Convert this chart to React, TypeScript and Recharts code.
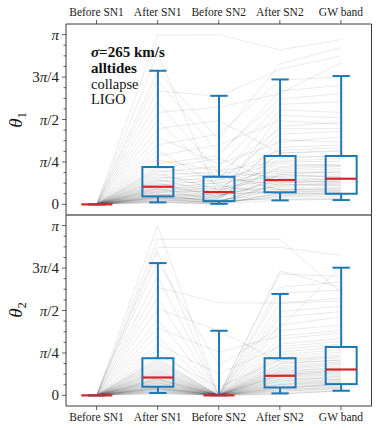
import React from "react";
import { ComposedChart, Line, Bar, XAxis, YAxis, ReferenceLine } from "recharts";

const PI = Math.PI;
const FONT = '"Liberation Serif", serif';

const categories = ["Before SN1", "After SN1", "Before SN2", "After SN2", "GW band"];

// y ticks every pi/16, labels on every fourth one
const yTicks = [0, 1, 2, 3, 4, 5, 6, 7, 8, 9, 10, 11, 12, 13, 14, 15, 16].map((k) => (k * PI) / 16);
const yDomain = [-PI / 16, (17 * PI) / 16];

// box stats (radians): whisker low, q1, median, q3, whisker high
const theta1Low = [0, 0.037, 0.01, 0.074, 0.08];
const theta1Q1 = [0, 0.148, 0.061, 0.223, 0.197];
const theta1Median = [0, 0.327, 0.228, 0.451, 0.475];
const theta1Q3 = [0, 0.692, 0.512, 0.896, 0.896];
const theta1High = [0, 2.473, 2.009, 2.312, 2.375];

const theta2Low = [0, 0.044, 0, 0.037, 0.086];
const theta2Q1 = [0, 0.16, 0, 0.147, 0.209];
const theta2Median = [0, 0.331, 0, 0.363, 0.479];
const theta2Q3 = [0, 0.688, 0, 0.688, 0.896];
const theta2High = [0, 2.448, 1.196, 1.877, 2.363];

// individual systems: [Before SN1, After SN1, Before SN2, After SN2, GW band]
const theta1Paths = [
  [0, 0.03, 0.01, 0.08, 0.09], [0, 0.04, 0.02, 0.15, 0.14], [0, 0.05, 0.0, 0.22, 0.2],
  [0, 0.06, 0.03, 0.3, 0.31], [0, 0.07, 0.05, 0.12, 0.11], [0, 0.08, 0.04, 0.4, 0.42],
  [0, 0.09, 0.07, 0.26, 0.28], [0, 0.1, 0.02, 0.55, 0.6], [0, 0.11, 0.09, 0.18, 0.17],
  [0, 0.12, 0.06, 0.35, 0.38], [0, 0.12, 0.1, 0.95, 0.98], [0, 0.13, 0.01, 0.2, 0.22],
  [0, 0.14, 0.12, 0.48, 0.45], [0, 0.14, 0.08, 0.09, 0.1], [0, 0.15, 0.14, 0.7, 0.75],
  [0, 0.16, 0.18, 0.25, 0.24], [0, 0.17, 0.05, 1.2, 1.15], [0, 0.18, 0.2, 0.33, 0.36],
  [0, 0.19, 0.15, 0.42, 0.47], [0, 0.2, 0.03, 0.16, 0.19], [0, 0.22, 0.25, 0.6, 0.58],
  [0, 0.23, 0.11, 0.85, 0.9], [0, 0.24, 0.3, 0.28, 0.26], [0, 0.25, 0.22, 1.45, 1.52],
  [0, 0.27, 0.16, 0.45, 0.5], [0, 0.28, 0.35, 0.19, 0.21], [0, 0.29, 0.24, 0.65, 0.7],
  [0, 0.3, 0.06, 0.38, 0.35], [0, 0.31, 0.4, 0.52, 0.55], [0, 0.33, 0.28, 1.05, 1.1],
  [0, 0.34, 0.19, 0.23, 0.25], [0, 0.36, 0.45, 0.78, 0.8], [0, 0.38, 0.32, 0.44, 0.41],
  [0, 0.4, 0.13, 1.65, 1.6], [0, 0.42, 0.5, 0.36, 0.4], [0, 0.44, 0.38, 0.9, 0.88],
  [0, 0.46, 0.21, 0.58, 0.62], [0, 0.48, 0.55, 0.27, 0.3], [0, 0.51, 0.42, 1.3, 1.35],
  [0, 0.54, 0.6, 0.5, 0.52], [0, 0.57, 0.27, 0.75, 0.72], [0, 0.6, 0.7, 1.85, 1.9],
  [0, 0.63, 0.48, 0.62, 0.66], [0, 0.66, 0.85, 0.4, 0.44], [0, 0.69, 0.52, 1.0, 1.05],
  [0, 0.75, 0.9, 2.1, 2.2], [0, 0.82, 0.62, 0.8, 0.85], [0, 0.9, 1.1, 1.55, 1.48],
  [0, 1.0, 0.35, 0.68, 0.72], [0, 1.1, 1.3, 2.3, 2.36], [0, 1.25, 0.75, 1.15, 1.25],
  [0, 1.4, 1.55, 0.95, 1.0], [0, 1.55, 0.46, 1.75, 1.7], [0, 1.7, 1.8, 2.05, 2.62],
  [0, 1.9, 0.58, 1.4, 1.4], [0, 2.1, 2.0, 2.5, 2.75], [0, 2.3, 0.95, 1.95, 2.05],
  [0, 2.46, 1.2, 2.6, 2.9], [0, 2.78, 0.15, 0.55, 0.5], [0, 3.13, 3.14, 2.86, 3.05],
];

const theta2Paths = [
  [0, 0.03, 0, 0.03, 0.08], [0, 0.04, 0, 0.1, 0.15], [0, 0.05, 0, 0.2, 0.25],
  [0, 0.06, 0, 0.05, 0.1], [0, 0.07, 0, 0.35, 0.4], [0, 0.08, 0, 0.14, 0.2],
  [0, 0.09, 0, 0.5, 0.58], [0, 0.1, 0, 0.08, 0.12], [0, 0.11, 0, 0.26, 0.35],
  [0, 0.12, 0, 0.7, 0.8], [0, 0.12, 0, 0.16, 0.22], [0, 0.13, 0, 0.42, 0.47],
  [0, 0.14, 0, 0.02, 0.09], [0, 0.14, 0, 0.3, 0.32], [0, 0.15, 0, 0.95, 1.05],
  [0, 0.16, 0, 0.12, 0.18], [0, 0.17, 0, 0.6, 0.65], [0, 0.18, 0, 0.22, 0.28],
  [0, 0.19, 0, 0.38, 0.44], [0, 0.2, 0, 0.07, 0.14], [0, 0.22, 0, 1.2, 1.3],
  [0, 0.23, 0, 0.45, 0.52], [0, 0.24, 0, 0.18, 0.24], [0, 0.25, 0, 0.8, 0.9],
  [0, 0.27, 0, 0.33, 0.38], [0, 0.28, 0, 0.1, 0.16], [0, 0.29, 0, 0.55, 0.62],
  [0, 0.3, 0, 0.27, 0.3], [0, 0.31, 0, 1.45, 1.55], [0, 0.32, 0, 0.4, 0.47],
  [0, 0.34, 0, 0.15, 0.21], [0, 0.36, 0, 0.65, 0.72], [0, 0.38, 0, 0.36, 0.42],
  [0, 0.4, 0, 0.24, 0.3], [0, 0.42, 0, 1.05, 1.15], [0, 0.44, 0, 0.48, 0.55],
  [0, 0.46, 0, 0.13, 0.2], [0, 0.48, 0, 0.75, 0.85], [0, 0.51, 0, 0.3, 0.36],
  [0, 0.54, 0, 0.58, 0.66], [0, 0.57, 0, 1.7, 1.75], [0, 0.6, 0, 0.44, 0.5],
  [0, 0.63, 0, 0.2, 0.27], [0, 0.66, 0, 0.85, 0.95], [0, 0.69, 0, 0.52, 0.6],
  [0, 0.75, 0.15, 0.66, 0.75], [0, 0.85, 0, 1.3, 1.45], [0, 0.95, 0.4, 0.9, 1.0],
  [0, 1.1, 0, 0.38, 0.45], [0, 1.25, 0.8, 1.1, 1.2], [0, 1.4, 0, 1.89, 1.95],
  [0, 1.6, 1.2, 0.62, 0.7], [0, 1.8, 0, 1.55, 1.65], [0, 2.0, 1.71, 1.71, 1.8],
  [0, 2.2, 0, 2.0, 2.1], [0, 2.48, 0.55, 1.25, 2.39], [0, 2.65, 0, 2.25, 2.2],
  [0, 2.74, 2.74, 2.74, 2.59], [0, 2.89, 2.89, 2.89, 1.9], [0, 3.14, 0, 2.3, 2.0],
];

function buildRows(paths: number[][], lo: number[], q1: number[], med: number[], q3: number[], hi: number[]) {
  return categories.map((cat, c) => {
    const row: Record<string, any> = { cat, lo: lo[c], q1: q1[c], med: med[c], q3: q3[c], hi: hi[c] };
    paths.forEach((p, i) => {
      row[`p${i}`] = p[c];
    });
    return row;
  });
}

const rows1 = buildRows(theta1Paths, theta1Low, theta1Q1, theta1Median, theta1Q3, theta1High);
const rows2 = buildRows(theta2Paths, theta2Low, theta2Q1, theta2Median, theta2Q3, theta2High);

const BLUE = "#1f77b4";
const RED = "#d62728";
const SPINE = "#3a3a3a";

function BoxShape(props: any) {
  const { x, y, width, height, payload } = props;
  const { lo, q1, med, q3, hi } = payload;
  const span = hi - lo;
  const top = Math.min(y, y + height);
  const h = Math.abs(height);
  const py = (v: number) => (span > 0 ? top + (h * (hi - v)) / span : top);
  const cx = x + width / 2;
  const cap = width * 0.28;
  return (
    <g>
      <line x1={cx} x2={cx} y1={py(hi)} y2={py(q3)} stroke={BLUE} strokeWidth={2} />
      <line x1={cx} x2={cx} y1={py(q1)} y2={py(lo)} stroke={BLUE} strokeWidth={2} />
      <line x1={cx - cap} x2={cx + cap} y1={py(hi)} y2={py(hi)} stroke={BLUE} strokeWidth={2} />
      <line x1={cx - cap} x2={cx + cap} y1={py(lo)} y2={py(lo)} stroke={BLUE} strokeWidth={2} />
      <rect x={x} y={py(q3)} width={width} height={py(q1) - py(q3)} fill="none" stroke={BLUE} strokeWidth={2} />
      <line x1={x} x2={x + width} y1={py(med)} y2={py(med)} stroke={RED} strokeWidth={2.2} />
    </g>
  );
}

const NoShape = () => null;

function tickLabel(k: number) {
  if (k === 0) return <tspan>0</tspan>;
  if (k === 4) return (<><tspan fontStyle="italic">π</tspan><tspan>/4</tspan></>);
  if (k === 8) return (<><tspan fontStyle="italic">π</tspan><tspan>/2</tspan></>);
  if (k === 12) return (<><tspan>3</tspan><tspan fontStyle="italic">π</tspan><tspan>/4</tspan></>);
  return <tspan fontStyle="italic">π</tspan>;
}

function YTick(props: any) {
  const { x, y, payload, side } = props;
  const k = Math.round(payload.value / (PI / 16));
  const major = k % 4 === 0;
  const len = major ? 4 : 2.5;
  const dir = side === "left" ? -1 : 1;
  return (
    <g>
      <line x1={x} x2={x + dir * len} y1={y} y2={y} stroke={SPINE} strokeWidth={0.8} />
      {side === "left" && major && (
        <text x={x - 7} y={y + 5} textAnchor="end" fontSize={15} style={{ fontFamily: FONT }} fill="#222">
          {tickLabel(k)}
        </text>
      )}
    </g>
  );
}

function XTick(props: any) {
  const { x, y, payload, side } = props;
  const dir = side === "top" ? -1 : 1;
  return (
    <g>
      <line x1={x} x2={x} y1={y} y2={y + dir * 4} stroke={SPINE} strokeWidth={0.8} />
      <text x={x} y={side === "top" ? y - 8 : y + 15} textAnchor="middle" fontSize={11.5} style={{ fontFamily: FONT }} fill="#222">
        {payload.value}
      </text>
    </g>
  );
}

type PanelProps = {
  rows: Record<string, any>[];
  paths: number[][];
  position: "top" | "bottom";
  layer: "lines" | "boxes";
};

// one layer of a panel; the boxes layer sits over the lines layer with the same geometry
function Panel({ rows, paths, position, layer }: PanelProps) {
  const isTop = position === "top";
  const showAxes = layer === "lines";
  const axisLine = showAxes ? { stroke: SPINE, strokeWidth: 1 } : false;
  return (
    <ComposedChart
      width={382}
      height={217}
      data={rows}
      margin={{ top: isTop ? 0 : 2, right: 0, bottom: isTop ? 2 : 0, left: 0 }}
      barCategoryGap="25%"
    >
      <XAxis
        dataKey="cat"
        orientation={isTop ? "top" : "bottom"}
        height={24}
        interval={0}
        tickLine={false}
        tickSize={0}
        tickMargin={0}
        axisLine={axisLine}
        tick={showAxes ? <XTick side={isTop ? "top" : "bottom"} /> : false}
      />
      <YAxis
        type="number"
        domain={yDomain}
        ticks={yTicks}
        interval={0}
        width={66}
        tickLine={false}
        tickSize={0}
        tickMargin={0}
        axisLine={axisLine}
        tick={showAxes ? <YTick side="left" /> : false}
      />
      <YAxis
        yAxisId="r"
        orientation="right"
        type="number"
        domain={yDomain}
        ticks={yTicks}
        interval={0}
        width={10.5}
        tickLine={false}
        tickSize={0}
        tickMargin={0}
        axisLine={axisLine}
        tick={showAxes ? <YTick side="right" /> : false}
      />
      {showAxes &&
        paths.map((_, i) => (
          <Line
            key={i}
            type="linear"
            dataKey={`p${i}`}
            stroke="#000"
            strokeOpacity={0.085}
            strokeWidth={1}
            dot={false}
            activeDot={false}
            isAnimationActive={false}
          />
        ))}
      <Bar
        dataKey={(d: any) => [d.lo, d.hi]}
        shape={showAxes ? <NoShape /> : <BoxShape />}
        isAnimationActive={false}
      />
      {showAxes && (
        <ReferenceLine y={isTop ? yDomain[0] : yDomain[1]} stroke="#7f7f7f" strokeWidth={1.5} />
      )}
    </ComposedChart>
  );
}

function Stack({ rows, paths, position, top }: { rows: any[]; paths: number[][]; position: "top" | "bottom"; top: number }) {
  return (
    <>
      <div style={{ position: "absolute", left: 0, top }}>
        <Panel rows={rows} paths={paths} position={position} layer="lines" />
      </div>
      <div style={{ position: "absolute", left: 0, top }}>
        <Panel rows={rows} paths={paths} position={position} layer="boxes" />
      </div>
    </>
  );
}

export default function App() {
  return (
    <div style={{ position: "absolute", left: 0, top: 0, width: 382, height: 430, background: "#fff" }}>
      <Stack rows={rows1} paths={theta1Paths} position="top" top={0} />
      <Stack rows={rows2} paths={theta2Paths} position="bottom" top={213} />
      <svg width={382} height={430} style={{ position: "absolute", left: 0, top: 0, pointerEvents: "none" }}>
        <g style={{ fontFamily: FONT }} fill="#111">
          <text x={91} y={57} fontSize={15} fontWeight="bold">
            <tspan fontStyle="italic">σ</tspan>
            <tspan>=265 km/s</tspan>
          </text>
          <text x={91} y={73} fontSize={15} fontWeight="bold">alltides</text>
          <text x={91} y={88.5} fontSize={14.5}>collapse</text>
          <text x={91} y={104} fontSize={14.5}>LIGO</text>
          <text transform="translate(22,120) rotate(-90)" textAnchor="middle" fontSize={19}>
            <tspan fontStyle="italic">θ</tspan>
            <tspan fontSize={12} dy={4}>1</tspan>
          </text>
          <text transform="translate(22,310) rotate(-90)" textAnchor="middle" fontSize={19}>
            <tspan fontStyle="italic">θ</tspan>
            <tspan fontSize={12} dy={4}>2</tspan>
          </text>
        </g>
      </svg>
    </div>
  );
}
